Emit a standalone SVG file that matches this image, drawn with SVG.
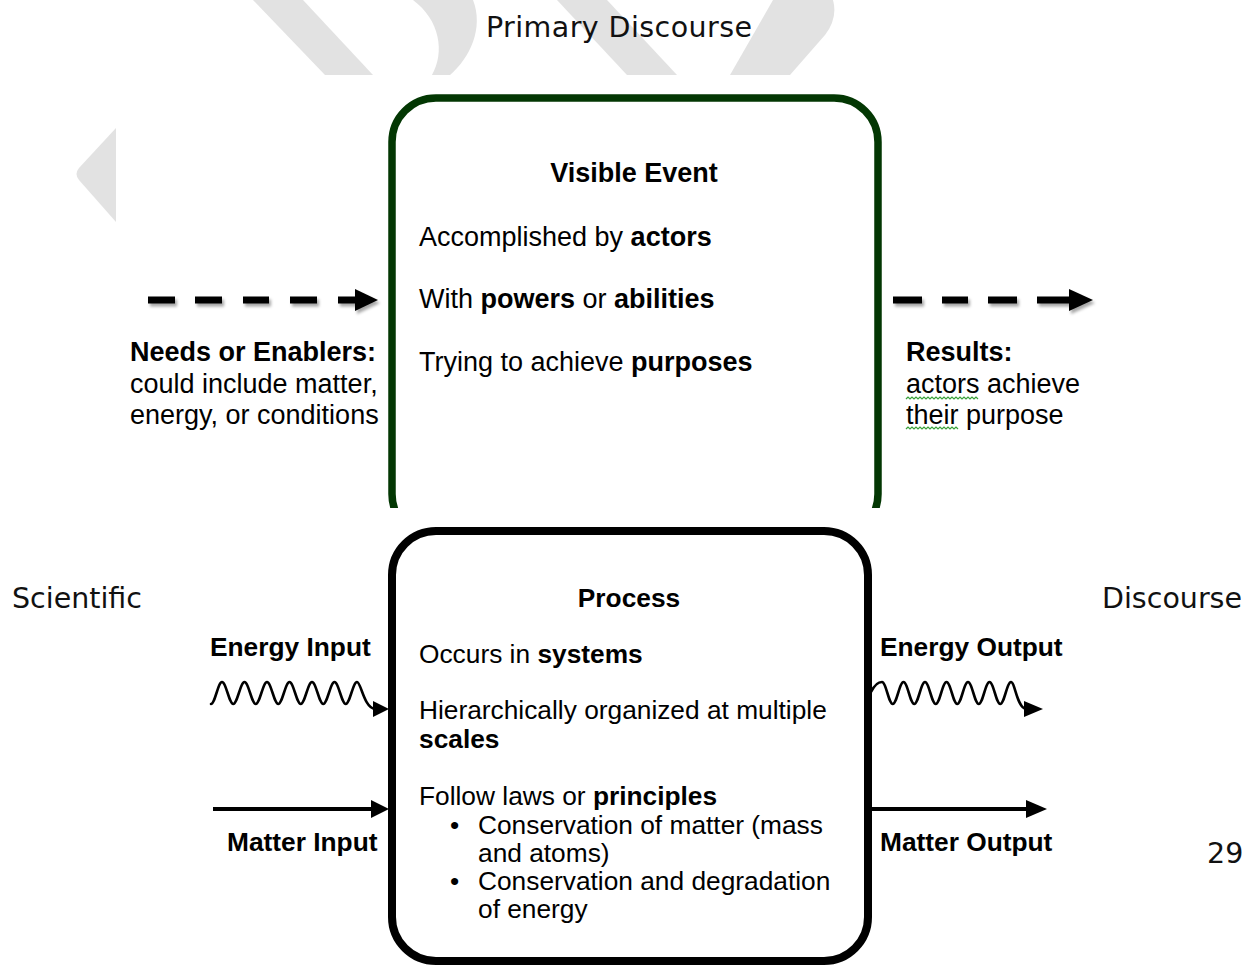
<svg xmlns="http://www.w3.org/2000/svg" width="1252" height="968" viewBox="0 0 1252 968">
<style>
.wm{fill:#e2e2e2}
.hdr{font-family:"DejaVu Sans",Verdana,sans-serif;font-size:28.5px;fill:#111}
.t{font-family:"Liberation Sans",Arial,sans-serif;fill:#000}
.up{font-size:27px}
.lo{font-size:26.3px}
.b{font-weight:bold}
.dash{stroke:#000;stroke-width:7;fill:none}
.wave{stroke:#000;stroke-width:2.6;fill:none;stroke-linecap:round}
.mline{stroke:#000;stroke-width:4;fill:none}
.head{fill:#000}
.sq{stroke:#3aa13a;stroke-width:1.2;fill:none}
</style>
<defs>
<clipPath id="topclip"><rect x="0" y="0" width="1252" height="508"/></clipPath>
<filter id="sh" x="-10%" y="-50%" width="120%" height="200%"><feDropShadow dx="2" dy="3" stdDeviation="1.5" flood-color="#000" flood-opacity="0.35"/></filter>
</defs>
<rect width="1252" height="968" fill="#fff"/>
<g id="watermark">
<path class="wm" d="M116,128 L79,168 Q74,174 79,180 L116,222 Z"/>
<path class="wm" d="M253,0 L303,0 L373,75 L325,75 Z"/>
<path class="wm" d="M413,0 L473,0 C484,28 470,58 450,75 L432,75 C445,52 440,20 413,0 Z"/>
<path class="wm" d="M557,0 L607,0 L677,75 L627,75 Z"/>
<path class="wm" d="M773,0 L833,0 Q838,18 825,35 L790,75 L730,75 Z"/>
</g>
<g id="headers">
<text class="hdr" x="486" y="37" textLength="266">Primary Discourse</text>
<text class="hdr" x="12" y="608">Scientific</text>
<text class="hdr" x="1102" y="608">Discourse</text>
<text class="hdr" x="1207" y="863">29</text>
</g>
<g id="visible-event">
<rect x="392" y="98" width="486" height="440" rx="44" fill="#fff" stroke="#033703" stroke-width="7.5" clip-path="url(#topclip)"/>
<text class="t up b" x="634" y="182" text-anchor="middle">Visible Event</text>
<text class="t up" x="419" y="246">Accomplished by <tspan class="b">actors</tspan></text>
<text class="t up" x="419" y="308">With <tspan class="b">powers</tspan> or <tspan class="b">abilities</tspan></text>
<text class="t up" x="419" y="371">Trying to achieve <tspan class="b">purposes</tspan></text>
</g>
<g id="needs">
<text class="t up b" x="130" y="361">Needs or Enablers:</text>
<text class="t up" x="130" y="393">could include matter,</text>
<text class="t up" x="130" y="424">energy, or conditions</text>
</g>
<g id="results">
<text class="t up b" x="906" y="361">Results:</text>
<text class="t up" x="906" y="393">actors achieve</text>
<text class="t up" x="906" y="424">their purpose</text>
<path class="sq" d="M906,399 l2,-2 l2,2 l2,-2 l2,2 l2,-2 l2,2 l2,-2 l2,2 l2,-2 l2,2 l2,-2 l2,2 l2,-2 l2,2 l2,-2 l2,2 l2,-2 l2,2 l2,-2 l2,2 l2,-2 l2,2 l2,-2 l2,2 l2,-2 l2,2 l2,-2 l2,2 l2,-2 l2,2 l2,-2 l2,2 l2,-2 l2,2 l2,-2 l2,2"/>
<path class="sq" d="M906,429 l2,-2 l2,2 l2,-2 l2,2 l2,-2 l2,2 l2,-2 l2,2 l2,-2 l2,2 l2,-2 l2,2 l2,-2 l2,2 l2,-2 l2,2 l2,-2 l2,2 l2,-2 l2,2 l2,-2 l2,2 l2,-2 l2,2 l2,-2 l2,2"/>
</g>
<g id="process">
<rect x="392" y="531" width="476" height="430" rx="44" fill="#fff" stroke="#000" stroke-width="8"/>
<text class="t lo b" x="629" y="607" text-anchor="middle">Process</text>
<text class="t lo" x="419" y="663">Occurs in <tspan class="b">systems</tspan></text>
<text class="t lo" x="419" y="719">Hierarchically organized at multiple</text>
<text class="t lo b" x="419" y="748">scales</text>
<text class="t lo" x="419" y="805">Follow laws or <tspan class="b">principles</tspan></text>
<text class="t lo" x="450" y="834">•</text>
<text class="t lo" x="478" y="834">Conservation of matter (mass</text>
<text class="t lo" x="478" y="862">and atoms)</text>
<text class="t lo" x="450" y="890">•</text>
<text class="t lo" x="478" y="890">Conservation and degradation</text>
<text class="t lo" x="478" y="918">of energy</text>
</g>
<g id="io-labels">
<text class="t lo b" x="210" y="656">Energy Input</text>
<text class="t lo b" x="227" y="851">Matter Input</text>
<text class="t lo b" x="880" y="656">Energy Output</text>
<text class="t lo b" x="880" y="851">Matter Output</text>
</g>
<g id="connectors">
<g filter="url(#sh)">
<path class="dash" d="M148,300 H175 M195,300 H222 M243,300 H269 M290,300 H317 M338,300 H360"/>
<polygon class="head" points="355,289 378,300 355,311"/>
<path class="dash" d="M893,300 H922 M942,300 H968 M988,300 H1017 M1037,300 H1072"/>
<polygon class="head" points="1069,289 1093,300 1069,311"/>
</g>
<path class="wave" d="M211,704 C215,704 218,682 222,682 S229.25,704 233.25,704 S240.5,682 244.5,682 S251.75,704 255.75,704 S263,682 267,682 S274.25,704 278.25,704 S285.5,682 289.5,682 S296.75,704 300.75,704 S308,682 312,682 S319.25,704 323.25,704 S330.5,682 334.5,682 S341.75,704 345.75,704 S353,682 357,682 S364,708 375,709"/>
<polygon class="head" points="373,701 389,709 373,717"/>
<path class="wave" d="M871,692 C874,686 878,682 882,682 S888.75,704 892.75,704 S899.5,682 903.5,682 S910.25,704 914.25,704 S921,682 925,682 S931.75,704 935.75,704 S942.5,682 946.5,682 S953.25,704 957.25,704 S964,682 968,682 S974.75,704 978.75,704 S985.5,682 989.5,682 S996.25,704 1000.25,704 S1007,682 1011,682 S1017,708 1026,709"/>
<polygon class="head" points="1024,701 1043,709 1024,717"/>
<path class="mline" d="M213,809 H374"/>
<polygon class="head" points="371,800 389,809 371,818"/>
<path class="mline" d="M872,809 H1028"/>
<polygon class="head" points="1026,800 1047,809 1026,818"/>
</g>
</svg>
